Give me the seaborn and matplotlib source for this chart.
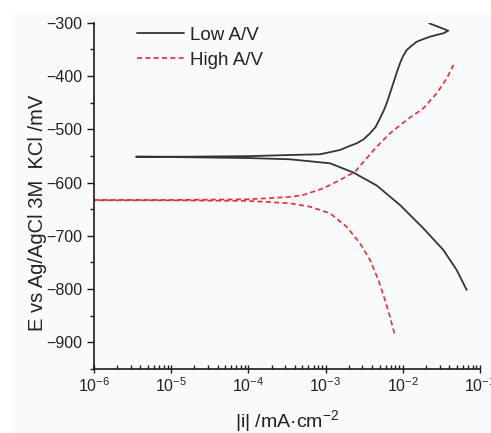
import numpy as np
import pandas as pd
import matplotlib
matplotlib.use("Agg")
import matplotlib.pyplot as plt
import matplotlib.ticker as mticker
from matplotlib.patches import Rectangle
import seaborn as sns

# ---- data (current density mA/cm2, potential mV) ----
low_i = [0.0673, 0.0499, 0.0335, 0.01845, 0.00920, 0.00459, 0.00229, 0.00114,
         0.000346, 1.0e-4, 1.58e-5, 3.5e-6,
         1.58e-5, 1.0e-4, 0.000346, 0.000845, 0.00154, 0.00195, 0.00253, 0.00310,
         0.00376, 0.00443, 0.00507, 0.00562, 0.00618, 0.00753, 0.00828, 0.00920,
         0.01005, 0.01125, 0.01306, 0.01514, 0.01828, 0.0225, 0.0273, 0.0335,
         0.0388, 0.0220]
low_E = [-801.7, -764.2, -726.6, -685.9, -642.2, -605.6, -581.2, -563.9,
         -556.4, -554.0, -552.5, -551.5,
         -551.5, -550.5, -548.3, -547.0, -538.9, -532.6, -526.4, -519.0,
         -507.6, -496.0, -479.4, -466.0, -451.3, -413.7, -395.0, -376.2,
         -363.0, -351.2, -343.0, -335.7, -331.0, -326.3, -323.0, -319.9,
         -315.0, -301.1]

high_i = [0.00776, 0.00682, 0.00587, 0.00482, 0.00376, 0.00279, 0.00187, 0.00114,
          0.000628, 0.000346, 1.0e-4, 1.0e-5, 6.3e-7,
          6.3e-7, 1.0e-5, 1.0e-4, 0.000346, 0.000514, 0.000933, 0.00154, 0.00240,
          0.00340, 0.00459, 0.00682, 0.0112, 0.01845, 0.0275, 0.0371, 0.0451]
high_E = [-883.0, -851.8, -820.5, -782.9, -745.4, -714.1, -682.9, -657.8,
          -645.4, -639.0, -634.5, -633.5, -633.3,
          -632.7, -632.7, -631.5, -627.0, -623.4, -610.8, -595.2, -579.7,
          -554.5, -532.7, -507.6, -482.6, -460.7, -432.5, -404.4, -379.4]

series_names = ["Low A/V", "High A/V"]
y_ticks = [-900, -800, -700, -600, -500, -400, -300]
x_ticks = [1e-6, 1e-5, 1e-4, 1e-3, 1e-2, 1e-1]
x_tick_labels = ["10$^{-6}$", "10$^{-5}$", "10$^{-4}$", "10$^{-3}$", "10$^{-2}$", "10$^{-1}$"]
x_label = "|i| /mA\u00b7cm$^{-2}$"
y_label = "E vs Ag/AgCl 3M  KCl /mV"

# ---- style ----
sns.set_style("ticks")
plt.rcParams["font.family"] = ["Liberation Sans", "DejaVu Sans"]
plt.rcParams["mathtext.default"] = "regular"

W, H = 491, 433
fig = plt.figure(figsize=(W / 100, H / 100), dpi=100)
fig.patch.set_facecolor("white")
fig.patches.append(Rectangle((13 / W, 0), 1 - 13 / W, 1 - 13 / H,
                             transform=fig.transFigure, facecolor="#f9fafc",
                             edgecolor="none", zorder=-10))

ax = fig.add_axes([94 / W, 1 - 369 / H, 386 / W, (369 - 22.7) / H])
ax.set_facecolor("none")

df_low = pd.DataFrame({"i": low_i, "E": low_E})
df_high = pd.DataFrame({"i": high_i, "E": high_E})

sns.lineplot(data=df_low, x="i", y="E", sort=False, estimator=None, ax=ax,
             color="#353535", lw=1.3, label=series_names[0])
sns.lineplot(data=df_high, x="i", y="E", sort=False, estimator=None, ax=ax,
             color="#ff2626", lw=1.2, dashes=False, label=series_names[1])
ax.lines[1].set_dashes((3, 2))

ax.set_xscale("log")
ax.set_xlim(1e-6, 1e-1)
ax.set_ylim(-950, -300)

ax.set_yticks(y_ticks)
ax.yaxis.set_minor_locator(mticker.MultipleLocator(50))
ax.set_xticks(x_ticks)
ax.set_xticklabels(x_tick_labels)
ax.xaxis.set_minor_locator(mticker.LogLocator(base=10, subs=np.arange(2, 10)))
ax.xaxis.set_minor_formatter(mticker.NullFormatter())

for s in ["top", "right"]:
    ax.spines[s].set_visible(False)
for s in ["left", "bottom"]:
    ax.spines[s].set_linewidth(1.2)
    ax.spines[s].set_color("#1e1a18")

ax.tick_params(axis="y", which="major", direction="out", length=5, width=1.0,
               labelsize=11.5, pad=3.5, colors="#1e1a18")
ax.tick_params(axis="y", which="minor", direction="out", length=3, width=1.0,
               colors="#1e1a18")
ax.tick_params(axis="x", which="major", direction="inout", length=6, width=1.0,
               labelsize=11.5, pad=2, colors="#1e1a18")
ax.tick_params(axis="x", which="minor", direction="in", length=3, width=1.0,
               colors="#1e1a18")
for lab in ax.get_xticklabels() + ax.get_yticklabels():
    lab.set_color("#222222")

ax.set_xlabel(x_label, fontsize=14, color="#222222")
ax.set_ylabel(y_label, fontsize=14.5, color="#222222")
ax.xaxis.set_label_coords(0.5, -0.112)
ax.xaxis.label.set_va("top")
ax.yaxis.set_label_coords(-0.122, 0.45)

leg = ax.legend(loc="upper left", bbox_to_anchor=(0.111, 0.988), frameon=False,
                fontsize=13.5, handlelength=2.5, handletextpad=0.35,
                borderpad=0, borderaxespad=0, labelspacing=0.4)
for t in leg.get_texts():
    t.set_color("#222222")

fig.savefig("out.png", dpi=100, facecolor=fig.get_facecolor())
